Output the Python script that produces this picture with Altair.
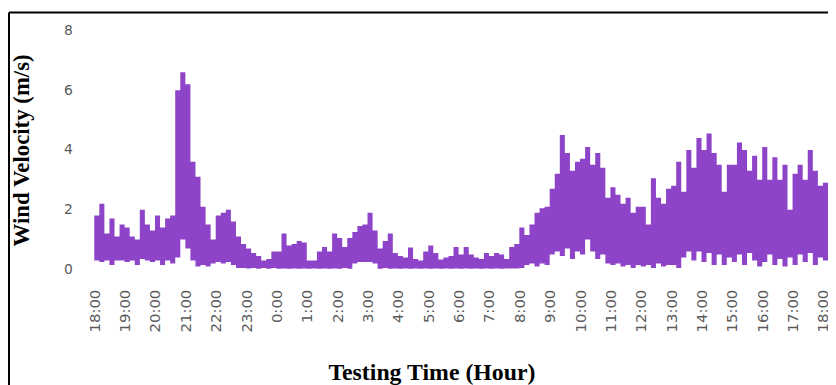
import altair as alt
import pandas as pd

# 10-minute slots from 18:00 (minutes since 18:00); last point closes the step area
minutes = list(range(0, 1451, 10))

# upper envelope of the wind-velocity trace (m/s), read per 10-minute slot
hi = [
    1.8, 2.2, 1.2, 1.7, 1.1, 1.5,      # 18:00
    1.4, 1.1, 1.0, 2.0, 1.5, 1.3,      # 19:00
    1.8, 1.4, 1.7, 1.8, 6.0, 6.6,      # 20:00
    6.2, 3.6, 3.1, 2.1, 1.5, 1.0,      # 21:00
    1.8, 1.9, 2.0, 1.6, 1.1, 0.85,     # 22:00
    0.7, 0.55, 0.45, 0.3, 0.35, 0.6,   # 23:00
    0.6, 1.2, 0.8, 0.85, 0.95, 0.9,    # 0:00
    0.3, 0.3, 0.6, 0.75, 0.6, 1.2,     # 1:00
    1.05, 0.75, 1.05, 1.25, 1.45, 1.5, # 2:00
    1.9, 1.3, 0.7, 0.95, 1.2, 0.55,    # 3:00
    0.45, 0.4, 0.73, 0.35, 0.3, 0.6,   # 4:00
    0.8, 0.55, 0.33, 0.4, 0.45, 0.75,  # 5:00
    0.5, 0.75, 0.5, 0.4, 0.35, 0.55,   # 6:00
    0.45, 0.55, 0.5, 0.35, 0.75, 0.85, # 7:00
    1.4, 1.15, 1.5, 1.9, 2.05, 2.1,    # 8:00
    2.7, 3.2, 4.5, 3.9, 3.3, 3.6,      # 9:00
    3.7, 4.1, 3.5, 3.9, 3.4, 2.4,      # 10:00
    2.75, 2.5, 2.2, 2.4, 1.9, 2.1,     # 11:00
    2.1, 1.5, 3.05, 2.4, 2.2, 2.7,     # 12:00
    2.8, 3.6, 2.6, 4.0, 3.4, 4.4,      # 13:00
    4.0, 4.55, 3.9, 3.5, 2.6, 3.5,     # 14:00
    3.5, 4.25, 4.0, 3.3, 3.8, 3.0,     # 15:00
    4.1, 3.0, 3.75, 3.0, 3.5, 2.0,     # 16:00
    3.2, 3.5, 3.0, 4.0, 3.3, 2.8,      # 17:00
    2.9, 2.9,                          # 18:00
]

# lower envelope of the trace (m/s)
lo = [
    0.3, 0.25, 0.3, 0.15, 0.3, 0.3,
    0.25, 0.3, 0.15, 0.35, 0.3, 0.25,
    0.3, 0.15, 0.3, 0.2, 0.4, 1.0,
    0.7, 0.3, 0.1, 0.15, 0.1, 0.2,
    0.25, 0.2, 0.25, 0.15, 0.05, 0.05,
    0.03, 0.05, 0.02, 0.05, 0.02, 0.05,
    0.02, 0.03, 0.02, 0.03, 0.02, 0.03,
    0.02, 0.03, 0.02, 0.03, 0.02, 0.03,
    0.02, 0.05, 0.02, 0.2, 0.25, 0.25,
    0.25, 0.2, 0.02, 0.05, 0.02, 0.03,
    0.02, 0.03, 0.02, 0.03, 0.02, 0.03,
    0.02, 0.03, 0.02, 0.03, 0.02, 0.03,
    0.02, 0.03, 0.02, 0.03, 0.02, 0.03,
    0.02, 0.03, 0.02, 0.03, 0.03, 0.03,
    0.05, 0.15, 0.2, 0.1, 0.2, 0.15,
    0.5, 0.6, 0.45, 0.7, 0.35, 0.6,
    0.5, 1.0, 0.6, 0.35, 0.5, 0.2,
    0.15, 0.2, 0.1, 0.15, 0.05, 0.15,
    0.1, 0.15, 0.05, 0.2, 0.1, 0.15,
    0.15, 0.05, 0.4, 0.6, 0.3, 0.6,
    0.25, 0.55, 0.15, 0.5, 0.15, 0.4,
    0.25, 0.5, 0.15, 0.55, 0.3, 0.1,
    0.25, 0.5, 0.15, 0.35, 0.1, 0.4,
    0.15, 0.5, 0.25, 0.55, 0.15, 0.4,
    0.3, 0.3,
]

tick_minutes = list(range(0, 1441, 60))
y_ticks = [0, 2, 4, 6, 8]

df = pd.DataFrame({"t": minutes, "hi": hi, "lo": lo})

W, H = 740, 241

area = alt.Chart(df).mark_area(interpolate="step-after", color="#8E44C8").encode(
    x=alt.X(
        "t:Q",
        scale=alt.Scale(domain=[0, 1450], nice=False, zero=False),
        axis=alt.Axis(
            values=tick_minutes,
            labelExpr="((floor(datum.value / 60) + 18) % 24) + ':00'",
            labelAngle=270,
            labelAlign="right",
            labelBaseline="middle",
            labelPadding=20,
            labelFont="DejaVu Sans",
            labelFontSize=15,
            labelColor="#5a5a5a",
            labelOverlap=False,
            labelBound=False,
            labelFlush=False,
            domain=False,
            ticks=False,
            grid=False,
            title="Testing Time (Hour)",
            titleFont="Liberation Serif",
            titleFontSize=24,
            titleFontWeight="bold",
            titleColor="#000000",
            titleX=340,
            titleY=111,
            titleAlign="center",
            titleBaseline="alphabetic",
        ),
    ),
    y=alt.Y(
        "hi:Q",
        scale=alt.Scale(domain=[0, 8], nice=False),
        axis=alt.Axis(
            values=y_ticks,
            labelPadding=22,
            labelFont="DejaVu Sans",
            labelFontSize=14,
            labelColor="#5a5a5a",
            domain=False,
            ticks=False,
            grid=False,
            title="Wind Velocity (m/s)",
            titleFont="Liberation Serif",
            titleFontSize=23,
            titleFontWeight="bold",
            titleColor="#000000",
            titleAngle=270,
            titleX=-66,
            titleY=H / 2,
            titleAlign="center",
            titleBaseline="alphabetic",
        ),
    ),
    y2="lo:Q",
)

frame_src = pd.DataFrame({"k": [0]})
left_line = alt.Chart(frame_src).mark_rule(color="#000000", strokeWidth=2).encode(
    x=alt.value(-86), y=alt.value(-18), y2=alt.value(400)
)
top_line = alt.Chart(frame_src).mark_rule(color="#000000", strokeWidth=2).encode(
    x=alt.value(-86), x2=alt.value(W + 20), y=alt.value(-18)
)

chart = alt.layer(area, left_line, top_line).properties(
    width=W,
    height=H,
    padding={"left": 87, "top": 21, "right": 0, "bottom": 115},
    autosize=alt.AutoSizeParams(type="none"),
).configure_view(stroke=None)

chart.save("out.html", embed_options={"renderer": "svg", "actions": False})
